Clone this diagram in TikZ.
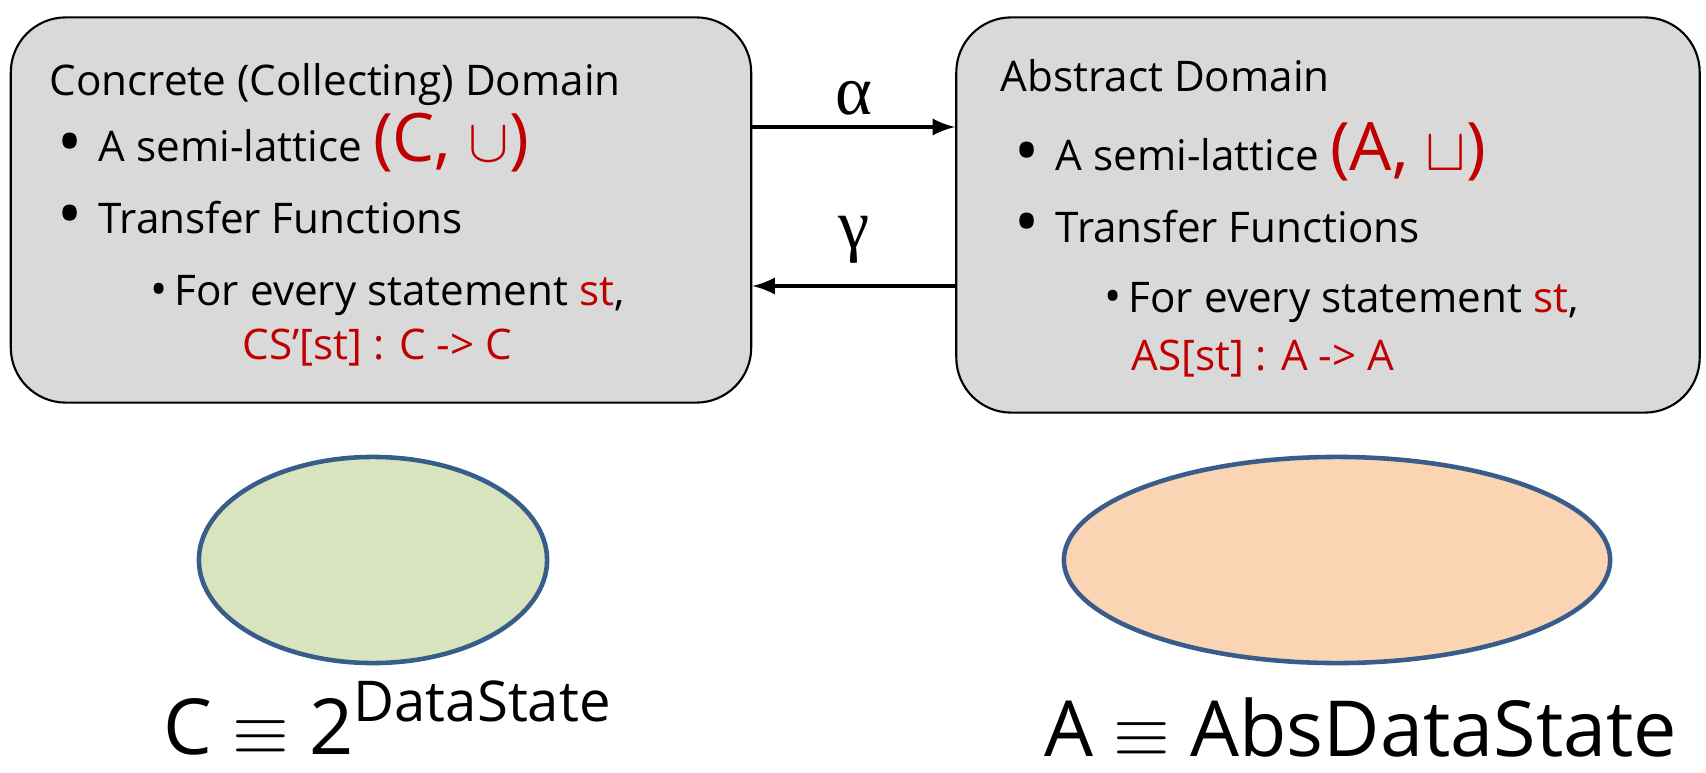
\documentclass[tikz,border=0pt]{standalone}
\usepackage{fontspec}
\setmainfont{Open Sans}
\newfontfamily\grkfont{Liberation Serif}
\usepackage{xcolor}
\usetikzlibrary{shapes, arrows, positioning, calc}

\definecolor{boxgray}{RGB}{217,217,217}
\definecolor{redtxt}{RGB}{192,0,0}
\definecolor{ellblue}{RGB}{56,93,138}
\definecolor{ellgreen}{RGB}{215,228,189}
\definecolor{ellorange}{RGB}{251,212,180}

\newcommand{\redbig}[1]{{\color{redtxt}\fontsize{19}{19}\selectfont #1}}
\newcommand{\bul}{\makebox[0.41cm][l]{\raisebox{-0.08em}{\fontsize{19}{19}\selectfont\textbullet}}}
\newcommand{\subbul}{\makebox[0.24cm][l]{\fontsize{13}{13}\selectfont\textbullet}}

\begin{document}
\begin{tikzpicture}[x=0.01cm, y=-0.01cm,
    dombox/.style={draw, fill=boxgray, rounded corners=0.55cm, line width=0.6pt},
    txt/.style={anchor=base west, inner sep=0pt, font=\fontsize{12}{14}\selectfont},
    setell/.style={ellipse, draw=ellblue, line width=1.3pt},
    maparrow/.style={-latex, line width=1.2pt},
    greek/.style={inner sep=0pt, font=\grkfont\fontsize{20}{20}\selectfont},
    eqlabel/.style={anchor=base west, inner sep=0pt, font=\fontsize{22}{24}\selectfont}]
\useasboundingbox (0,0) rectangle (1706,773);

% the two domains
\node[dombox, minimum width=7.40cm, minimum height=3.85cm] (cbox) at (381,210) {};
\node[dombox, minimum width=7.43cm, minimum height=3.95cm] (abox) at (1328,215) {};

% concrete side
\node[txt] (ctitle) at (49,96) {Concrete (Collecting) Domain};
\node[txt] (clat) at (57,162) {\bul A semi-lattice \redbig{(C, $\cup$)}};
\node[txt] (ctf) at (57,234) {\bul Transfer Functions};
\node[txt] (cst) at (150,305) {\subbul For every statement {\color{redtxt}st},};
\node[txt] (cfun) at (242,359) {\color{redtxt}CS'[st] : C -> C};

% abstract side
\node[txt] (atitle) at (1000,92) {Abstract Domain};
\node[txt] (alat) at (1014,171) {\bul A semi-lattice \redbig{(A, $\sqcup$)}};
\node[txt] (atf) at (1014,242) {\bul Transfer Functions};
\node[txt] (ast) at (1104,312) {\subbul For every statement {\color{redtxt}st},};
\node[txt] (afun) at (1131,370) {\color{redtxt}AS[st] : A -> A};

% alpha / gamma
\coordinate (ya) at (0,127);
\coordinate (yg) at (0,286);
\draw[maparrow] (cbox.east |- ya) -- (abox.west |- ya);
\draw[maparrow] (abox.west |- yg) -- (cbox.east |- yg);
\node[greek] (alpha) at (854,98) {α};
\node[greek] (gamma) at (854,240) {γ};

% the sets
\node[setell, fill=ellgreen, minimum width=3.48cm, minimum height=2.06cm] (cset) at (373,560) {};
\node[setell, fill=ellorange, minimum width=5.46cm, minimum height=2.06cm] (aset) at (1337,560) {};

\node[eqlabel] (ceq) at (163,754) {C $\equiv$ 2\raisebox{0.42em}{\fontsize{16}{16}\selectfont DataState}};
\node[eqlabel] (aeq) at (1044,756) {A $\equiv$ AbsDataState};
\end{tikzpicture}
\end{document}
